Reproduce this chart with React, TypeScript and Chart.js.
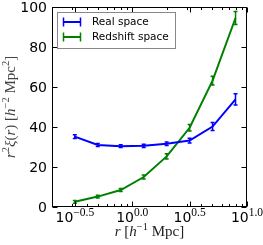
import React, { useEffect, useRef } from "react";
import { Chart, registerables } from "chart.js";

Chart.register(...registerables);

// separation r [h^-1 Mpc]
const rValues = [0.316, 0.501, 0.794, 1.259, 1.995, 3.162, 5.012, 7.943];
// r^2 xi(r), real space
const realSpace = [35.2, 31.0, 30.4, 30.6, 31.6, 33.2, 40.2, 53.8];
const realErr = [0.9, 0.8, 0.7, 0.8, 0.9, 1.2, 2.0, 2.8];
// r^2 xi(r), redshift space
const redshiftSpace = [2.6, 5.2, 8.5, 15.0, 25.3, 39.6, 63.2, 94.5];
const redshiftErr = [0.7, 0.7, 0.8, 1.0, 1.3, 1.6, 2.2, 3.2];

const legendLabels = ["Real space", "Redshift space"];
const xMajorExponents = [-0.5, 0.0, 0.5, 1.0];
const xMajorLabels = ["\u22120.5", "0.0", "0.5", "1.0"];
const xMinorTicks = [0.3, 0.4, 0.5, 0.6, 0.7, 0.8, 0.9, 2, 3, 4, 5, 6, 7, 8, 9];
const yTicks = [0, 20, 40, 60, 80, 100];

type Run = { t: string; font: string; dy?: number };

function drawRuns(ctx: CanvasRenderingContext2D, runs: Run[], cx: number, y: number) {
  let total = 0;
  const widths = runs.map((r) => {
    ctx.font = r.font;
    const w = ctx.measureText(r.t).width;
    total += w;
    return w;
  });
  let x = cx - total / 2;
  runs.forEach((r, i) => {
    ctx.font = r.font;
    ctx.textAlign = "left";
    ctx.textBaseline = "alphabetic";
    ctx.fillText(r.t, x, y + (r.dy || 0));
    x += widths[i];
  });
}

const decorPlugin = {
  id: "decor",
  afterDatasetsDraw(chart: any) {
    const ctx: CanvasRenderingContext2D = chart.ctx;
    const xs = chart.scales.x;
    const ys = chart.scales.y;
    const area = chart.chartArea;

    // error bars
    chart.data.datasets.forEach((ds: any, di: number) => {
      const meta = chart.getDatasetMeta(di);
      ctx.save();
      ctx.strokeStyle = ds.borderColor;
      ctx.lineWidth = 1.5;
      meta.data.forEach((pt: any, j: number) => {
        const v = ds.data[j].y;
        const e = ds.errors[j];
        const y1 = ys.getPixelForValue(v + e);
        const y2 = ys.getPixelForValue(v - e);
        ctx.beginPath();
        ctx.moveTo(pt.x, y1);
        ctx.lineTo(pt.x, y2);
        ctx.moveTo(pt.x - 2, y1);
        ctx.lineTo(pt.x + 2, y1);
        ctx.moveTo(pt.x - 2, y2);
        ctx.lineTo(pt.x + 2, y2);
        ctx.stroke();
      });
      ctx.restore();
    });

    ctx.save();
    // frame
    ctx.strokeStyle = "#000";
    ctx.lineWidth = 1;
    const L = Math.round(area.left) + 0.5;
    const R = Math.round(area.right) - 0.5;
    const T = Math.round(area.top) + 0.5;
    const B = Math.round(area.bottom) - 0.5;
    ctx.strokeRect(L, T, R - L, B - T);

    // ticks
    ctx.beginPath();
    xMajorExponents.forEach((ex) => {
      const px = Math.round(xs.getPixelForValue(Math.pow(10, ex))) + 0.5;
      ctx.moveTo(px, B);
      ctx.lineTo(px, B - 5);
      ctx.moveTo(px, T);
      ctx.lineTo(px, T + 5);
    });
    xMinorTicks.forEach((v) => {
      const px = Math.round(xs.getPixelForValue(v)) + 0.5;
      ctx.moveTo(px, B);
      ctx.lineTo(px, B - 2.5);
      ctx.moveTo(px, T);
      ctx.lineTo(px, T + 2.5);
    });
    yTicks.forEach((v) => {
      const py = Math.round(ys.getPixelForValue(v)) + 0.5;
      ctx.moveTo(L, py);
      ctx.lineTo(L + 5, py);
      ctx.moveTo(R, py);
      ctx.lineTo(R - 5, py);
    });
    ctx.stroke();

    // y tick labels
    ctx.fillStyle = "#000";
    ctx.font = "14px 'DejaVu Sans'";
    ctx.textAlign = "right";
    ctx.textBaseline = "middle";
    yTicks.forEach((v) => {
      ctx.fillText(String(v), area.left - 5, ys.getPixelForValue(v) + 1);
    });

    // x tick labels
    xMajorExponents.forEach((ex, i) => {
      const px = xs.getPixelForValue(Math.pow(10, ex));
      drawRuns(
        ctx,
        [
          { t: "10", font: "14px 'DejaVu Sans'" },
          { t: xMajorLabels[i], font: "11.5px 'Liberation Serif'", dy: -6.5 },
        ],
        px,
        area.bottom + 15
      );
    });

    // axis titles
    ctx.fillStyle = "#222";
    const it = "italic 15px 'Liberation Serif'";
    const rm = "15px 'Liberation Serif'";
    const sp = "10.5px 'Liberation Serif'";
    drawRuns(
      ctx,
      [
        { t: "r", font: it },
        { t: " [", font: rm },
        { t: "h", font: it },
        { t: "\u22121", font: sp, dy: -6 },
        { t: " Mpc]", font: rm },
      ],
      (area.left + area.right) / 2,
      236
    );
    ctx.save();
    ctx.translate(15, (area.top + area.bottom) / 2);
    ctx.rotate(-Math.PI / 2);
    ctx.fillStyle = "#444";
    drawRuns(
      ctx,
      [
        { t: "r", font: it },
        { t: "2", font: sp, dy: -6 },
        { t: "\u03BE", font: it },
        { t: "(", font: rm },
        { t: "r", font: it },
        { t: ") [", font: rm },
        { t: "h", font: it },
        { t: "\u22122", font: sp, dy: -6 },
        { t: " Mpc", font: rm },
        { t: "2", font: sp, dy: -6 },
        { t: "]", font: rm },
      ],
      0,
      0
    );
    ctx.restore();

    // legend
    const lx = 57, ly = 12, lw = 118, lh = 36;
    ctx.fillStyle = "#fff";
    ctx.fillRect(lx, ly, lw, lh);
    ctx.strokeStyle = "#888";
    ctx.lineWidth = 1;
    ctx.strokeRect(lx + 0.5, ly + 0.5, lw, lh);
    chart.data.datasets.forEach((ds: any, di: number) => {
      const cy = 22 + di * 15;
      ctx.strokeStyle = ds.borderColor;
      ctx.lineWidth = 2;
      ctx.beginPath();
      ctx.moveTo(63.5, cy);
      ctx.lineTo(80.5, cy);
      ctx.stroke();
      ctx.lineWidth = 1.5;
      ctx.beginPath();
      ctx.moveTo(63.5, cy - 4.5);
      ctx.lineTo(63.5, cy + 4.5);
      ctx.moveTo(80.5, cy - 4.5);
      ctx.lineTo(80.5, cy + 4.5);
      ctx.stroke();
      ctx.fillStyle = "#000";
      ctx.font = "10.5px 'DejaVu Sans'";
      ctx.textAlign = "left";
      ctx.textBaseline = "middle";
      ctx.fillText(legendLabels[di], 92, cy + 0.5);
    });
    ctx.restore();
  },
};

export default function App() {
  const ref = useRef<HTMLCanvasElement>(null);
  useEffect(() => {
    document.body.style.margin = "0";
    const chart = new Chart(ref.current as HTMLCanvasElement, {
      type: "line",
      data: {
        datasets: [
          {
            label: legendLabels[0],
            data: rValues.map((x, i) => ({ x, y: realSpace[i] })),
            borderColor: "#0000ff",
            backgroundColor: "#0000ff",
            borderWidth: 2,
            pointRadius: 0,
            tension: 0,
            errors: realErr,
          } as any,
          {
            label: legendLabels[1],
            data: rValues.map((x, i) => ({ x, y: redshiftSpace[i] })),
            borderColor: "#008000",
            backgroundColor: "#008000",
            borderWidth: 2,
            pointRadius: 0,
            tension: 0,
            errors: redshiftErr,
          } as any,
        ],
      },
      options: {
        animation: false,
        responsive: false,
        devicePixelRatio: 1,
        layout: { padding: { top: 7, right: 16, left: 0, bottom: 0 } },
        plugins: { legend: { display: false }, tooltip: { enabled: false } },
        scales: {
          x: {
            type: "logarithmic",
            min: 0.2,
            max: 10,
            ticks: { display: false },
            grid: { display: false },
            border: { display: false },
            afterFit: (s: any) => {
              s.height = 38;
            },
          },
          y: {
            type: "linear",
            min: 0,
            max: 100,
            ticks: { display: false },
            grid: { display: false },
            border: { display: false },
            afterFit: (s: any) => {
              s.width = 52;
            },
          },
        },
      },
      plugins: [decorPlugin],
    });
    return () => chart.destroy();
  }, []);
  return (
    <div style={{ width: 263, height: 245 }}>
      <canvas ref={ref} width={263} height={245} style={{ display: "block" }} />
    </div>
  );
}
